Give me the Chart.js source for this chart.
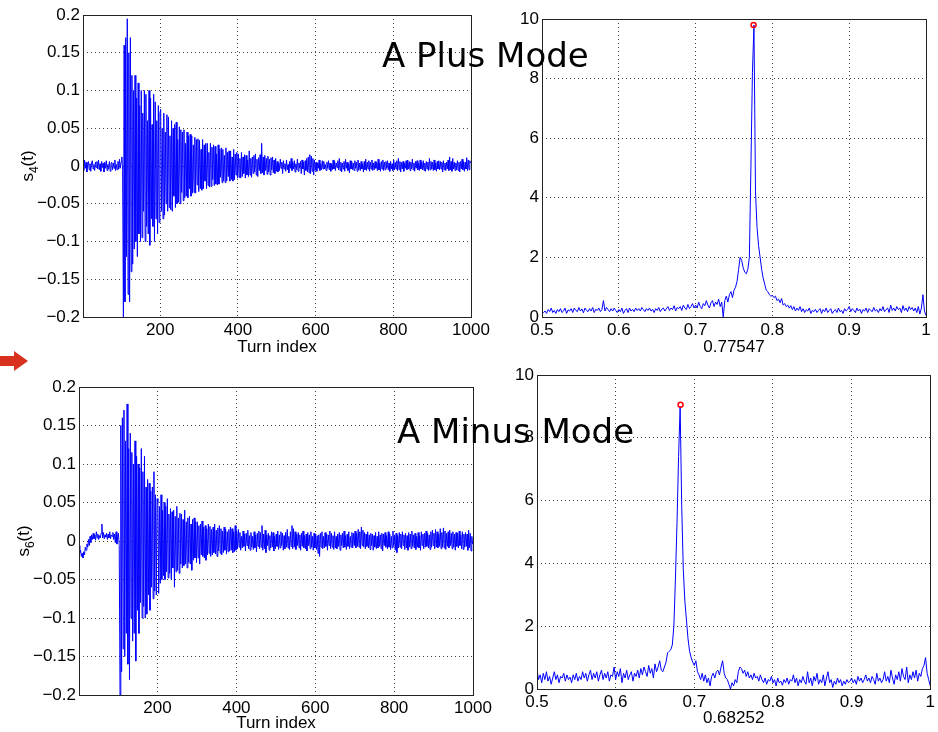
<!DOCTYPE html>
<html>
<head>
<meta charset="utf-8">
<script src="https://cdn.jsdelivr.net/npm/chart.js@4.4.1/dist/chart.umd.min.js"></script>
<style>
  html, body { margin: 0; padding: 0; background: #fff; }
  #page { position: relative; width: 938px; height: 732px; overflow: hidden; }
  #page canvas { position: absolute; left: 0; top: 0; }
  .mode { position: absolute; font-family: "Comic Sans MS", "DejaVu Sans", sans-serif; font-size: 34px; line-height: 34px; color: #000; white-space: nowrap; }
  #arrow { position: absolute; left: 0; top: 350px; }
</style>
</head>
<body>
<div id="page">
  <canvas id="plus-signal" width="938" height="732"></canvas>
  <canvas id="plus-spectrum" width="938" height="732"></canvas>
  <canvas id="minus-signal" width="938" height="732"></canvas>
  <canvas id="minus-spectrum" width="938" height="732"></canvas>
  <div class="mode" style="left:382px;top:38px">A Plus Mode</div>
  <div class="mode" style="left:397px;top:414px">A Minus Mode</div>
  <svg id="arrow" width="30" height="24"><polygon points="0,6 14,6 14,1 28,11 14,21 14,16 0,16" fill="#d8321e"/></svg>
</div>
<script>
// Tick values
const turnTicks = [200, 400, 600, 800, 1000];
const sTicks = [-0.2, -0.15, -0.1, -0.05, 0, 0.05, 0.1, 0.15, 0.2];
const tuneTicks = [0.5, 0.6, 0.7, 0.8, 0.9, 1];
const ampTicks = [0, 2, 4, 6, 8, 10];

// Turn-by-turn signals, one sample every 2 turns starting at turn 1
const turnStart = 1;
const turnStep = 2;
const s4 = [
  // turns 1-103
  0.004, -0.006, 0.008, -0.003, 0.005, -0.008, 0.002, 0.006, -0.005, 0.003,
  -0.007, 0.004, 0.007, -0.004, 0.002, -0.006, 0.005, -0.002, 0.006, -0.004,
  0.008, -0.005, 0.003, -0.007, 0.006, -0.002, 0.004, -0.008, 0.005, -0.003,
  0.007, -0.006, 0.002, -0.004, 0.006, -0.007, 0.003, 0.005, -0.005, 0.004,
  -0.003, 0.008, -0.006, 0.002, -0.005, 0.006, -0.004, 0.009, -0.003, 0.005,
  0.012, -0.006,
  // turns 105-199
  -0.2, 0.16, -0.18, 0.17, -0.12, 0.195, -0.17, 0.15, -0.18, 0.17,
  -0.14, 0.12, -0.13, 0.1, -0.11, 0.12, -0.1, 0.09, -0.12, 0.11,
  -0.09, 0.08, -0.1, 0.1, -0.095, 0.07, -0.06, 0.1, -0.1, 0.095,
  -0.08, 0.06, -0.09, 0.1, -0.105, 0.09, -0.07, 0.055, -0.08, 0.095,
  -0.1, 0.085, -0.07, 0.06, -0.09, 0.08, -0.075, 0.07,
  // turns 201-299
  0.075, -0.06, 0.05, -0.07, 0.07, -0.065, 0.045, -0.05, 0.068, -0.06,
  0.065, -0.055, 0.04, -0.058, 0.06, -0.06, 0.05, -0.04, 0.055, -0.055,
  0.058, -0.05, 0.035, -0.048, 0.052, -0.05, 0.048, -0.035, 0.045, -0.046,
  0.048, -0.042, 0.03, -0.04, 0.045, -0.042, 0.04, -0.03, 0.042, -0.04,
  0.04, -0.036, 0.028, -0.035, 0.038, -0.036, 0.035, -0.025, 0.036, -0.034,
  // turns 301-399
  0.034, -0.03, 0.022, -0.032, 0.035, -0.03, 0.028, -0.02, 0.03, -0.03,
  0.03, -0.026, 0.018, -0.028, 0.03, -0.027, 0.025, -0.018, 0.028, -0.026,
  0.026, -0.024, 0.016, -0.025, 0.028, -0.024, 0.022, -0.015, 0.024, -0.022,
  0.022, -0.02, 0.014, -0.022, 0.024, -0.02, 0.018, -0.014, 0.02, -0.02,
  0.02, -0.018, 0.012, -0.02, 0.022, -0.018, 0.016, -0.012, 0.018, -0.016,
  // turns 401-499
  0.016, -0.015, 0.01, -0.016, 0.018, -0.014, 0.012, -0.01, 0.015, -0.016,
  0.014, -0.012, 0.008, -0.014, 0.02, -0.012, 0.01, -0.015, 0.012, -0.01,
  0.014, -0.008, 0.016, -0.012, 0.009, -0.014, 0.011, -0.006, 0.015, -0.01,
  0.03, -0.009, 0.012, -0.012, 0.014, -0.006, 0.01, -0.011, 0.013, -0.008,
  0.009, -0.012, 0.011, -0.005, 0.012, -0.009, 0.008, -0.01, 0.01, -0.007,
  // turns 501-999
  0.006, -0.008, 0.004, -0.006, 0.009, -0.003, 0.005, -0.01, 0.007, -0.004,
  0.003, -0.007, 0.008, -0.005, 0.002, -0.009, 0.006, -0.003, 0.01, -0.006,
  0.005, -0.004, 0.007, -0.008, 0.003, -0.005, 0.009, -0.007, 0.004, -0.003,
  0.006, -0.01, 0.008, -0.004, 0.005, -0.012, 0.007, -0.006, 0.01, -0.008,
  0.012, -0.009, 0.015, -0.01, 0.013, -0.007, 0.01, -0.012, 0.008, -0.006,
  0.005, -0.007, 0.004, -0.003, 0.008, -0.006, 0.003, -0.005, 0.007, -0.004,
  0.006, -0.004, 0.002, -0.006, 0.005, -0.003, 0.007, -0.005, 0.004, -0.007,
  0.003, -0.005, 0.008, -0.004, 0.006, -0.006, 0.004, -0.002, 0.007, -0.005,
  0.01, -0.006, 0.005, -0.008, 0.004, -0.004, 0.006, -0.007, 0.009, -0.003,
  0.005, -0.006, 0.003, -0.009, 0.007, -0.004, 0.006, -0.005, 0.004, -0.006,
  0.007, -0.003, 0.005, -0.007, 0.008, -0.005, 0.004, -0.006, 0.006, -0.004,
  0.003, -0.008, 0.006, -0.005, 0.009, -0.006, 0.005, -0.004, 0.007, -0.007,
  0.005, -0.004, 0.008, -0.006, 0.004, -0.005, 0.006, -0.003, 0.005, -0.006,
  0.009, -0.005, 0.004, -0.007, 0.006, -0.004, 0.008, -0.006, 0.005, -0.005,
  0.006, -0.003, 0.007, -0.005, 0.004, -0.007, 0.006, -0.004, 0.003, -0.006,
  0.008, -0.005, 0.005, -0.004, 0.007, -0.006, 0.01, -0.005, 0.006, -0.008,
  0.005, -0.004, 0.006, -0.007, 0.004, -0.003, 0.007, -0.005, 0.008, -0.004,
  0.006, -0.006, 0.005, -0.004, 0.009, -0.005, 0.004, -0.007, 0.006, -0.003,
  0.007, -0.005, 0.004, -0.006, 0.008, -0.004, 0.005, -0.005, 0.007, -0.006,
  0.004, -0.007, 0.006, -0.004, 0.005, -0.006, 0.01, -0.005, 0.006, -0.004,
  0.005, -0.006, 0.008, -0.005, 0.004, -0.007, 0.006, -0.004, 0.007, -0.005,
  0.006, -0.004, 0.005, -0.008, 0.007, -0.005, 0.004, -0.006, 0.005, -0.004,
  0.008, -0.006, 0.012, -0.005, 0.006, -0.007, 0.01, -0.004, 0.005, -0.006,
  0.004, -0.005, 0.007, -0.006, 0.005, -0.008, 0.006, -0.004, 0.009, -0.005,
  0.006, -0.007, 0.005, -0.004, 0.011, -0.006, 0.008, -0.005, 0.007, 0.004
];
const s6 = [
  // turns 1-103
  -0.006, -0.015, -0.012, -0.02, -0.016, -0.022, -0.014, -0.018, -0.008, -0.012,
  -0.004, -0.008, 0.002, -0.006, 0.006, -0.002, 0.008, 0.002, 0.01, 0.003,
  0.008, 0.001, 0.012, 0.004, 0.009, 0.002, 0.007, 0.004, 0.01, 0.022,
  0.004, 0.011, 0.003, 0.008, 0.005, 0.01, 0.002, 0.009, 0.004, 0.012,
  0.003, 0.008, 0.006, 0.011, 0.002, 0.009, -0.002, 0.012, -0.004, 0.006,
  0.01, -0.006,
  // turns 105-199
  -0.2, 0.15, -0.17, 0.16, -0.14, 0.17, -0.15, 0.13, -0.12, 0.178,
  -0.16, 0.12, -0.18, 0.14, -0.1, 0.115, -0.13, 0.1, -0.12, 0.13,
  -0.156, 0.11, -0.09, 0.1, -0.12, 0.095, -0.08, 0.12, -0.1, 0.09,
  -0.085, 0.11, -0.1, 0.07, -0.095, 0.08, -0.07, 0.075, -0.09, 0.065,
  -0.06, 0.07, -0.075, 0.09, -0.065, 0.06, -0.07, 0.055,
  // turns 201-299
  0.05, -0.068, 0.045, -0.055, 0.06, -0.05, 0.04, -0.045, 0.05, -0.05,
  0.045, -0.04, 0.055, -0.048, 0.035, -0.042, 0.042, -0.05, 0.038, -0.035,
  0.04, -0.06, 0.032, -0.04, 0.045, -0.038, 0.03, -0.042, 0.036, -0.03,
  0.035, -0.035, 0.028, -0.032, 0.04, -0.03, 0.025, -0.035, 0.03, -0.028,
  0.032, -0.03, 0.022, -0.038, 0.028, -0.025, 0.03, -0.022, 0.025, -0.028,
  // turns 301-399
  0.025, -0.022, 0.02, -0.03, 0.022, -0.018, 0.026, -0.02, 0.018, -0.022,
  0.02, -0.025, 0.016, -0.018, 0.022, -0.016, 0.019, -0.02, 0.015, -0.018,
  0.018, -0.015, 0.022, -0.017, 0.014, -0.02, 0.017, -0.013, 0.02, -0.016,
  0.016, -0.018, 0.013, -0.015, 0.018, -0.012, 0.015, -0.017, 0.012, -0.014,
  0.015, -0.013, 0.018, -0.012, 0.016, -0.015, 0.012, -0.014, 0.02, -0.012,
  // turns 401-999
  0.012, -0.01, 0.015, -0.008, 0.011, -0.012, 0.006, -0.009, 0.013, -0.007,
  0.009, -0.013, 0.01, -0.006, 0.014, -0.01, 0.007, -0.012, 0.011, -0.008,
  0.006, -0.011, 0.012, -0.009, 0.008, -0.014, 0.01, -0.007, 0.013, -0.01,
  0.011, -0.008, 0.02, -0.012, 0.009, -0.01, 0.014, -0.015, 0.008, -0.006,
  0.01, -0.012, 0.007, -0.009, 0.012, -0.008, 0.011, -0.013, 0.006, -0.01,
  0.009, -0.007, 0.013, -0.011, 0.008, -0.009, 0.012, -0.006, 0.01, -0.012,
  0.007, -0.01, 0.011, -0.008, 0.015, -0.009, 0.006, -0.011, 0.012, -0.007,
  0.02, -0.01, 0.016, -0.008, 0.012, -0.011, 0.009, -0.006, 0.011, -0.009,
  0.008, -0.012, 0.01, -0.007, 0.013, -0.009, 0.007, -0.01, 0.009, -0.013,
  0.011, -0.006, 0.008, -0.01, 0.012, -0.008, 0.006, -0.012, 0.01, -0.009,
  0.009, -0.011, 0.007, -0.016, 0.008, -0.02, 0.01, -0.008, 0.012, -0.01,
  0.006, -0.009, 0.011, -0.007, 0.009, -0.012, 0.008, -0.006, 0.013, -0.01,
  0.01, -0.008, 0.007, -0.011, 0.012, -0.009, 0.006, -0.01, 0.009, -0.007,
  0.011, -0.012, 0.008, -0.006, 0.01, -0.009, 0.013, -0.008, 0.007, -0.011,
  0.009, -0.007, 0.012, -0.01, 0.006, -0.008, 0.011, -0.009, 0.01, -0.006,
  0.013, -0.009, 0.01, -0.007, 0.015, -0.008, 0.012, -0.01, 0.018, -0.006,
  0.014, -0.008, 0.011, -0.01, 0.009, -0.007, 0.012, -0.009, 0.008, -0.011,
  0.01, -0.006, 0.009, -0.012, 0.007, -0.008, 0.011, -0.01, 0.006, -0.009,
  0.012, -0.007, 0.008, -0.01, 0.01, -0.013, 0.009, -0.006, 0.011, -0.008,
  0.007, -0.01, 0.012, -0.008, 0.009, -0.011, 0.006, -0.009, 0.013, -0.007,
  0.008, -0.012, 0.01, -0.015, 0.007, -0.009, 0.011, -0.008, 0.009, -0.01,
  0.012, -0.006, 0.008, -0.011, 0.01, -0.009, 0.007, -0.012, 0.011, -0.008,
  0.009, -0.01, 0.013, -0.007, 0.008, -0.009, 0.01, -0.011, 0.006, -0.008,
  0.011, -0.009, 0.007, -0.012, 0.012, -0.006, 0.009, -0.01, 0.01, -0.008,
  0.013, -0.007, 0.01, -0.009, 0.008, -0.011, 0.012, -0.008, 0.014, -0.006,
  0.01, -0.01, 0.015, -0.008, 0.012, -0.009, 0.009, -0.007, 0.016, -0.01,
  0.011, -0.008, 0.017, -0.009, 0.013, -0.011, 0.01, -0.007, 0.012, -0.009,
  0.014, -0.006, 0.01, -0.01, 0.012, -0.008, 0.009, -0.012, 0.011, -0.007,
  0.01, -0.009, 0.013, -0.006, 0.008, -0.01, 0.012, -0.011, 0.009, -0.008,
  0.011, -0.007, 0.009, -0.012, 0.014, -0.009, 0.01, -0.013, 0.006, -0.004
];

// Spectrum amplitudes, one sample every 0.002 in tune starting at 0.5
const tuneStart = 0.5;
const tuneStep = 0.002;
const specPlus = [
  0.1, 0.15, 0.2, 0.12, 0.25, 0.18, 0.3, 0.15, 0.22, 0.12,
  0.25, 0.18, 0.28, 0.15, 0.2, 0.3, 0.12, 0.24, 0.2, 0.28,
  0.15, 0.3, 0.22, 0.18, 0.32, 0.2, 0.27, 0.14, 0.3, 0.22,
  0.18, 0.28, 0.2, 0.32, 0.15, 0.26, 0.22, 0.3, 0.18, 0.25,
  0.55, 0.2, 0.32, 0.25, 0.18, 0.28, 0.2, 0.3, 0.22, 0.15,
  0.25, 0.18, 0.3, 0.12, 0.22, 0.28, 0.15, 0.3, 0.2, 0.26,
  0.18, 0.3, 0.22, 0.28, 0.2, 0.32, 0.25, 0.18, 0.28, 0.22,
  0.3, 0.2, 0.26, 0.15, 0.28, 0.22, 0.32, 0.18, 0.26, 0.3,
  0.2, 0.28, 0.35, 0.22, 0.3, 0.25, 0.38, 0.2, 0.32, 0.28,
  0.35, 0.22, 0.4, 0.3, 0.25, 0.42, 0.28, 0.35, 0.45, 0.3,
  0.4, 0.3, 0.5, 0.35, 0.28, 0.45, 0.38, 0.55, 0.4, 0.3,
  0.48, 0.55, 0.35, 0.5, 0.42, 0.6, 0.35, 0.5, 0.0, 0.55,
  0.7, 0.5, 0.75, 0.85, 0.65, 0.9, 1.0, 1.2, 1.6, 2.0,
  1.9, 1.65, 1.5, 1.45, 1.6, 2.0, 5.0, 8.2, 9.8, 4.2,
  3.0, 2.4, 2.0, 1.6, 1.3, 1.1, 0.9, 0.85, 0.75, 0.7,
  0.72, 0.65, 0.7, 0.55, 0.6, 0.48, 0.62, 0.4, 0.45, 0.35,
  0.4, 0.3, 0.38, 0.25, 0.35, 0.2, 0.3, 0.22, 0.35, 0.18,
  0.28, 0.15, 0.25, 0.2, 0.3, 0.12, 0.22, 0.18, 0.26, 0.15,
  0.22, 0.28, 0.12, 0.25, 0.18, 0.3, 0.15, 0.22, 0.28, 0.12,
  0.2, 0.25, 0.15, 0.3, 0.18, 0.22, 0.12, 0.28, 0.2, 0.25,
  0.35, 0.18, 0.28, 0.22, 0.15, 0.3, 0.2, 0.26, 0.12, 0.25,
  0.2, 0.3, 0.15, 0.28, 0.22, 0.18, 0.32, 0.2, 0.25, 0.15,
  0.28, 0.2, 0.35, 0.18, 0.25, 0.3, 0.15, 0.4, 0.22, 0.3,
  0.2, 0.35, 0.25, 0.3, 0.15, 0.38, 0.22, 0.3, 0.18, 0.35,
  0.25, 0.32, 0.2, 0.3, 0.15, 0.35, 0.1, 0.3, 0.75, 0.2,
  0.05
];
const specMinus = [
  0.6, 0.3, 0.45, 0.2, 0.5, 0.3, 0.55, 0.25, 0.4, 0.15,
  0.35, 0.55, 0.3, 0.45, 0.2, 0.4, 0.35, 0.5, 0.25, 0.45,
  0.3, 0.38, 0.2, 0.45, 0.3, 0.5, 0.25, 0.4, 0.3, 0.55,
  0.35, 0.5, 0.25, 0.45, 0.6, 0.3, 0.5, 0.35, 0.55, 0.25,
  0.45, 0.6, 0.3, 0.5, 0.35, 0.55, 0.25, 0.45, 0.4, 0.7,
  0.3, 0.55, 0.4, 0.65, 0.2, 0.5, 0.35, 0.6, 0.3, 0.45,
  0.55, 0.25, 0.5, 0.4, 0.6, 0.35, 0.65, 0.45, 0.7, 0.55,
  0.4, 0.75, 0.5, 0.65, 0.35, 0.8, 0.55, 0.7, 0.9, 0.6,
  0.55, 0.7, 0.85, 1.15, 1.2, 1.25, 1.4, 2.0, 3.5, 5.3,
  7.4, 9.0, 5.8, 3.8, 2.8, 2.2, 1.6, 1.2, 1.0, 0.85,
  0.75, 0.9, 0.55, 0.45, 0.3, 0.5, 0.25, 0.45, 0.2, 0.35,
  0.1, 0.4, 0.5, 0.35, 0.55, 0.6, 0.45, 0.7, 0.9, 0.5,
  0.35, 0.3, 0.15, 0.0, 0.2, 0.1, 0.3, 0.2, 0.55, 0.7,
  0.65, 0.5, 0.6, 0.4, 0.55, 0.35, 0.45, 0.3, 0.5, 0.35,
  0.4, 0.25, 0.45, 0.3, 0.2, 0.35, 0.15, 0.3, 0.25, 0.4,
  0.2, 0.3, 0.1, 0.35, 0.2, 0.25, 0.12, 0.3, 0.2, 0.35,
  0.15, 0.3, 0.25, 0.45, 0.2, 0.35, 0.1, 0.3, 0.2, 0.4,
  0.25, 0.15, 0.55, 0.2, 0.35, 0.1, 0.4, 0.25, 0.5, 0.15,
  0.3, 0.2, 0.45, 0.1, 0.35, 0.55, 0.2, 0.3, 0.05, 0.25,
  0.15, 0.35, 0.2, 0.3, 0.1, 0.25, 0.15, 0.3, 0.2, 0.25,
  0.35, 0.2, 0.3, 0.15, 0.4, 0.25, 0.35, 0.2, 0.3, 0.45,
  0.25, 0.35, 0.2, 0.4, 0.3, 0.15, 0.5, 0.25, 0.35, 0.2,
  0.3, 0.55, 0.25, 0.4, 0.2, 0.6, 0.35, 0.15, 0.45, 0.3,
  0.55, 0.25, 0.65, 0.4, 0.3, 0.7, 0.2, 0.45, 0.3, 0.55,
  0.35, 0.6, 0.25, 0.5, 0.4, 0.65, 0.75, 1.0, 0.5, 0.3,
  0.1
];

// Picked peaks (red circles)
const peakTunes = [0.77547, 0.68252];
const peakAmps = [9.8, 9.05];

const FONT = '"Liberation Sans", Arial, Helvetica, sans-serif';
const fmt = v => (v < 0 ? '\u2212' : '') + String(Math.abs(v));

// solid axes box plus the y label with a subscript
const framePlugin = {
    id: 'frame',
    afterDraw(chart, args, opts) {
        const { ctx, chartArea: a } = chart;
        ctx.save();
        ctx.strokeStyle = '#222';
        ctx.lineWidth = 1;
        ctx.strokeRect(Math.round(a.left) + 0.5, Math.round(a.top) + 0.5,
            Math.round(a.right - a.left), Math.round(a.bottom - a.top));
        if (opts.sub) {
            ctx.translate(a.left - 50, (a.top + a.bottom) / 2);
            ctx.rotate(-Math.PI / 2);
            ctx.fillStyle = '#000';
            ctx.textBaseline = 'alphabetic';
            const big = '17px ' + FONT, small = '12px ' + FONT;
            ctx.font = big;
            const w1 = ctx.measureText('s').width;
            const w3 = ctx.measureText('(t)').width;
            ctx.font = small;
            const w2 = ctx.measureText(opts.sub).width;
            let x = -(w1 + w2 + w3) / 2;
            ctx.font = big;
            ctx.fillText('s', x, 0);
            x += w1;
            ctx.font = small;
            ctx.fillText(opts.sub, x, 5);
            x += w2;
            ctx.font = big;
            ctx.fillText('(t)', x, 0);
        }
        ctx.restore();
    }
};

function axis(min, max, ticks, extra) {
    return Object.assign({
        type: 'linear', min, max,
        afterBuildTicks: s => { s.ticks = ticks.map(v => ({ value: v })); },
        ticks: { font: { family: FONT, size: 17 }, color: '#000', padding: 3, maxRotation: 0, autoSkip: false, callback: v => fmt(v) },
        grid: { color: 'rgba(0,0,0,0.75)', lineWidth: 1, drawTicks: false },
        border: { display: false, dash: [1, 3] }
    }, extra);
}

function makeChart(id, area, xr, yr, values, start, step, peakIdx, xTitle, sub) {
    const line = values.map((v, i) => ({ x: start + i * step, y: v }));
    const datasets = [{ data: line, borderColor: '#0000ff', borderWidth: 1, pointRadius: 0, tension: 0, order: 1 }];
    if (peakIdx !== null) {
        datasets.push({
            data: [{ x: peakTunes[peakIdx], y: peakAmps[peakIdx] }], showLine: false, order: 0,
            pointRadius: 2.5, pointBorderWidth: 1.5, pointBorderColor: '#ff0000', pointBackgroundColor: 'rgba(0,0,0,0)'
        });
    }
    return new Chart(document.getElementById(id), {
        type: 'line',
        data: { datasets },
        options: {
            responsive: false, animation: false, devicePixelRatio: 1,
            layout: { padding: { left: area.left - 60, top: area.top, right: 938 - area.right, bottom: 732 - area.bottom - area.xh } },
            plugins: { legend: { display: false }, tooltip: { enabled: false }, frame: { sub } },
            scales: {
                x: axis(xr[0], xr[1], xr[2], {
                    afterFit: s => { s.height = area.xh; },
                    title: { display: true, text: xTitle, color: '#000', padding: 0, font: { family: FONT, size: 17, lineHeight: 1 } }
                }),
                y: axis(yr[0], yr[1], yr[2], { afterFit: s => { s.width = 60; } })
            }
        },
        plugins: [framePlugin]
    });
}

makeChart('plus-signal', { left: 83, right: 471, top: 15, bottom: 317, xh: 38.5 },
    [1, 1000, turnTicks], [-0.2, 0.2, sTicks], s4, turnStart, turnStep, null, 'Turn index', '4');
makeChart('plus-spectrum', { left: 542, right: 926, top: 19, bottom: 317, xh: 38.5 },
    [0.5, 1, tuneTicks], [0, 10, ampTicks], specPlus, tuneStart, tuneStep, 0, String(peakTunes[0]), null);
makeChart('minus-signal', { left: 79, right: 473, top: 387, bottom: 695, xh: 37 },
    [1, 1000, turnTicks], [-0.2, 0.2, sTicks], s6, turnStart, turnStep, null, 'Turn index', '6');
makeChart('minus-spectrum', { left: 537, right: 933, top: 375, bottom: 689, xh: 37.5 },
    [0.5, 1, tuneTicks], [0, 10, ampTicks], specMinus, tuneStart, tuneStep, 1, String(peakTunes[1]), null);
</script>
</body>
</html>
